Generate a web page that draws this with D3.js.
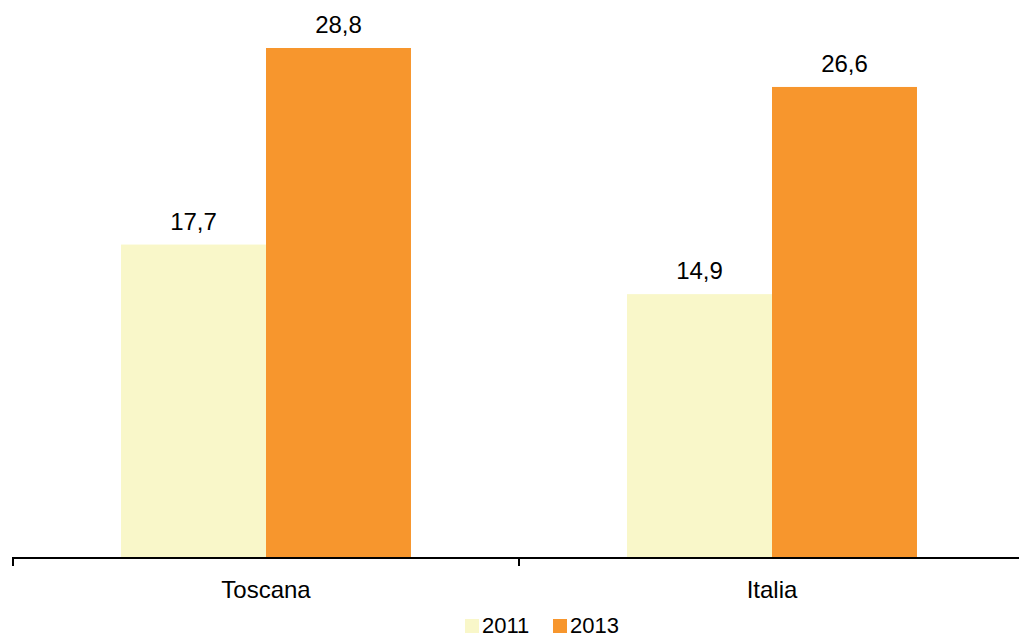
<!DOCTYPE html>
<html><head><meta charset="utf-8">
<script src="https://cdn.jsdelivr.net/npm/d3@7"></script>
<style>body{margin:0;background:#fff}svg{display:block;font-family:"Liberation Sans",Arial,sans-serif}</style>
</head><body><svg id="c" width="1019" height="638"></svg>
<script>
const categories = ["Toscana", "Italia"];
const seriesNames = ["2011", "2013"];
const values2011 = [17.7, 14.9];
const values2013 = [28.8, 26.6];
const colors = ["#f9f7c9", "#f7962d"];

const svg = d3.select("#c");
const baseY = 558;
const x = d3.scaleBand().domain(categories).range([13, 1025]).paddingInner(0).paddingOuter(0);
const inner = d3.scaleBand().domain(seriesNames).range([0, x.bandwidth()]).paddingInner(0).paddingOuter(0.745);
const y = d3.scaleLinear().domain([0, 28.8]).range([baseY, 48]);

const data = categories.map((c, i) => ({cat: c, vals: [values2011[i], values2013[i]]}));
const g = svg.append("g");
data.forEach(d => {
  d.vals.forEach((v, j) => {
    const bx = x(d.cat) + inner(seriesNames[j]);
    g.append("rect").attr("x", bx).attr("y", y(v)).attr("width", inner.bandwidth()).attr("height", baseY - y(v)).attr("fill", colors[j]);
    g.append("text").attr("x", bx + inner.bandwidth()/2).attr("y", y(v) - 15).attr("text-anchor", "middle")
      .attr("font-size", 24).attr("fill", "#000").text(String(v).replace(".", ","));
  });
});

// axis
const axis = svg.append("g").attr("transform", `translate(0,${baseY})`);
axis.append("line").attr("x1", 12).attr("x2", 1019).attr("y1", 0).attr("y2", 0).attr("stroke", "#000").attr("stroke-width", 2);
const tickXs = [x.range()[0]].concat(categories.map(c => x(c) + x.bandwidth()));
tickXs.forEach(tx => axis.append("line").attr("x1", tx).attr("x2", tx).attr("y1", 0).attr("y2", 8).attr("stroke", "#000").attr("stroke-width", 2));
categories.forEach(c => axis.append("text").attr("x", x(c) + x.bandwidth()/2).attr("y", 40).attr("text-anchor", "middle").attr("font-size", 24).attr("fill", "#000").text(c));

// legend
const legend = svg.append("g");
const lx = [465, 553];
seriesNames.forEach((s, j) => {
  legend.append("rect").attr("x", lx[j]).attr("y", 619).attr("width", 14).attr("height", 14).attr("fill", colors[j]);
  legend.append("text").attr("x", lx[j] + 17).attr("y", 633).attr("font-size", 22).attr("fill", "#000").text(s);
});
</script></body></html>
